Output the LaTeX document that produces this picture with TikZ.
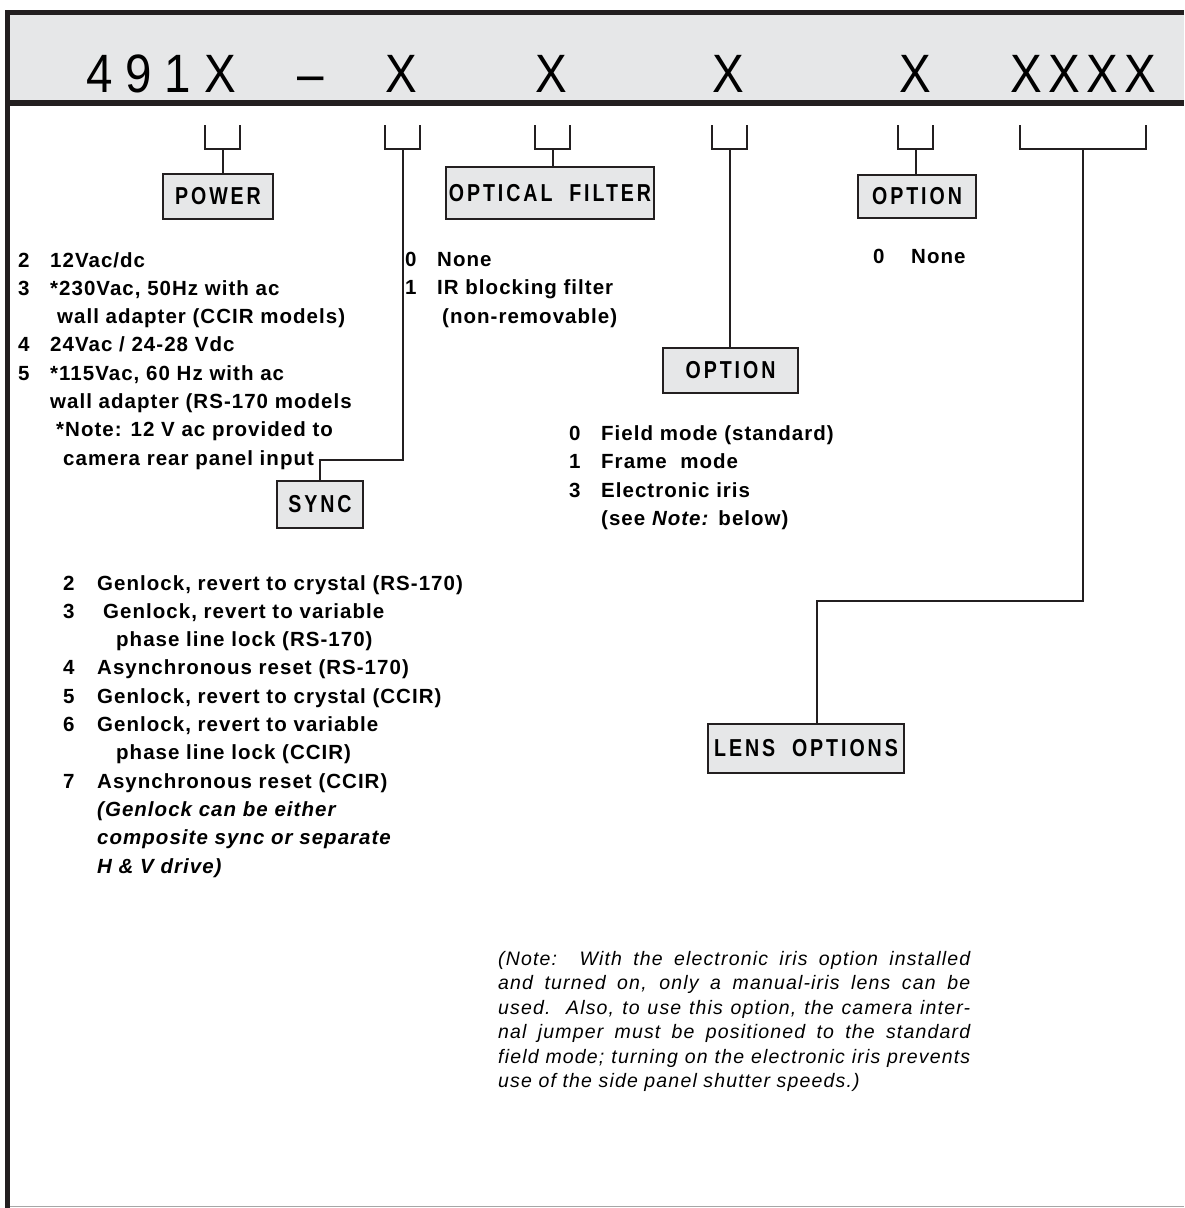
\documentclass[tikz,border=0pt]{standalone}
\usepackage{fontspec}
\setmainfont{Liberation Sans}
\newfontfamily\titlefont[FakeStretch=0.88,LetterSpace=12]{Liberation Sans}
\newfontfamily\titlewide[FakeStretch=0.88,LetterSpace=24]{Liberation Sans}
\newfontfamily\tagfont[FakeStretch=0.8,LetterSpace=12]{Liberation Sans}
\newfontfamily\listfont[LetterSpace=5]{Liberation Sans}
\newfontfamily\notefont[LetterSpace=6]{Liberation Sans}

\begin{document}
\begin{tikzpicture}[x=1pt,y=-1pt,
  tag/.style={draw=inkc,line width=1.4pt,fill=bandg,inner sep=0pt,
    font=\tagfont\bfseries\fontsize{24.5}{25}\selectfont},
  entry/.style={anchor=base west,inner sep=0pt,
    font=\listfont\bfseries\fontsize{20.5}{24}\selectfont},
  code/.style={anchor=base,inner sep=0pt,
    font=\titlefont\fontsize{54}{54}\selectfont},
  brk/.style={draw=inkc,line width=1.6pt},
  lead/.style={draw=inkc,line width=2pt}]

\definecolor{bandg}{HTML}{E6E7E8}
\definecolor{inkc}{HTML}{231F20}

\useasboundingbox (0,0) rectangle (1184,1208);

% frame and title band
\fill[bandg](10,15) rectangle (1184,100);
\draw[inkc,line width=5pt](1184,12.5)--(7.5,12.5)--(7.5,1208);
\draw[inkc,line width=6pt](10,103)--(1184,103);
\draw[black!35,line width=1.5pt](10,1206.5)--(1184,1206.5);

\node[code,anchor=base west,font=\titlewide\fontsize{54}{54}\selectfont] (c1) at (86,92) {491X};
\node[code] (c2) at (311,92) {–};
\node[code] (c3) at (401,92) {X};
\node[code] (c4) at (551,92) {X};
\node[code] (c5) at (728,92) {X};
\node[code] (c6) at (915,92) {X};
\node[code,anchor=base west] (c7) at (1010,92) {XXXX};

% brackets under the code
\foreach \a/\b/\n in {205/240/pw,385/420/sy,535/570/of,712/747/om,898/933/or,1020/1146/ln}{
  \draw[brk](\a,125) |- (\b,149) -- (\b,125);
  \coordinate (\n) at ({(\a+\b)/2},149);
}

% option boxes
\node[tag,minimum width=110pt,minimum height=45pt] (power) at (218,196.5) {POWER};
\node[tag,minimum width=208pt,minimum height=52pt] (filter) at (550,193) {OPTICAL\ \ FILTER};
\node[tag,minimum width=118pt,minimum height=43pt] (optr) at (917,196.5) {OPTION};
\node[tag,minimum width=135pt,minimum height=45pt] (optm) at (730.5,370.5) {OPTION};
\node[tag,minimum width=86pt,minimum height=47pt] (sync) at (320,504.5) {SYNC};
\node[tag,minimum width=196pt,minimum height=49pt] (lens) at (806,748.5) {LENS\ \ OPTIONS};

\draw[lead](pw)--(pw |- power.north);
\draw[lead](of)--(of |- filter.north);
\draw[lead](or)--(or |- optr.north);
\draw[lead](om)--(om |- optm.north);
\draw[lead](sy)--++(0,311) -| (sync.north);
\draw[lead,line width=2.6pt](ln)--++(0,452) -| ([xshift=11pt]lens.north);

% power
\foreach \n/\y in {2/267,3/295.3,4/351.9,5/380.2}
  \node[entry] (pn\n) at (18,\y) {\n};
\node[entry] (pt1) at (50,267) {12Vac/dc};
\node[entry] (pt2) at (50,295.3) {*230Vac, 50Hz with ac};
\node[entry] (pt3) at (57,323.6) {wall adapter (CCIR models)};
\node[entry] (pt4) at (50,351.9) {24Vac / 24-28 Vdc};
\node[entry] (pt5) at (50,380.2) {*115Vac, 60 Hz with ac};
\node[entry] (pt6) at (50,408.5) {wall adapter (RS-170 models};
\node[entry] (pt7) at (56,436.8) {*Note: 12 V ac provided to};
\node[entry] (pt8) at (63,465.1) {camera rear panel input};

% optical filter
\node[entry] (fn0) at (405,266) {0};
\node[entry] (fn1) at (405,294.5) {1};
\node[entry] (ft1) at (437,266) {None};
\node[entry] (ft2) at (437,294.5) {IR blocking filter};
\node[entry] (ft3) at (442,323) {(non-removable)};

% right option
\node[entry] (rn0) at (873,263) {0};
\node[entry] (rt1) at (911,263) {None};

% middle option
\node[entry] (mn0) at (569,440) {0};
\node[entry] (mn1) at (569,468.5) {1};
\node[entry] (mn3) at (569,497) {3};
\node[entry] (mt1) at (601,440) {Field mode (standard)};
\node[entry] (mt2) at (601,468.5) {Frame\ \ mode};
\node[entry] (mt3) at (601,497) {Electronic iris};
\node[entry] (mt4) at (601,525.5) {(see \textit{Note:} below)};

% sync
\foreach \n/\y in {2/590,3/618.3,4/674.9,5/703.2,6/731.5,7/788.1}
  \node[entry] (sn\n) at (63,\y) {\n};
\node[entry] (st1) at (97,590) {Genlock, revert to crystal (RS-170)};
\node[entry] (st2) at (103,618.3) {Genlock, revert to variable};
\node[entry] (st3) at (116,646.6) {phase line lock (RS-170)};
\node[entry] (st4) at (97,674.9) {Asynchronous reset (RS-170)};
\node[entry] (st5) at (97,703.2) {Genlock, revert to crystal (CCIR)};
\node[entry] (st6) at (97,731.5) {Genlock, revert to variable};
\node[entry] (st7) at (116,759.8) {phase line lock (CCIR)};
\node[entry] (st8) at (97,788.1) {Asynchronous reset (CCIR)};
\node[entry,font=\listfont\bfseries\itshape\fontsize{20.5}{24}\selectfont] (st9) at (97,816.4) {(Genlock can be either};
\node[entry,font=\listfont\bfseries\itshape\fontsize{20.5}{24}\selectfont] (st10) at (97,844.7) {composite sync or separate};
\node[entry,font=\listfont\bfseries\itshape\fontsize{20.5}{24}\selectfont] (st11) at (97,873) {H \& V drive)};

% note
\node[anchor=north west,inner sep=0pt,text width=472pt,align=justify,
  font=\notefont\itshape\fontsize{19.5}{24.5}\selectfont] (note) at (498,951)
  {(Note:\ \ With the electronic iris option installed\linebreak
   and turned on, only a manual-iris lens can be\linebreak
   used.\ \ Also, to use this option, the camera inter-\linebreak
   nal jumper must be positioned to the standard\linebreak
   field mode; turning on the electronic iris prevents\linebreak
   use of the side panel shutter speeds.)};

\end{tikzpicture}
\end{document}
